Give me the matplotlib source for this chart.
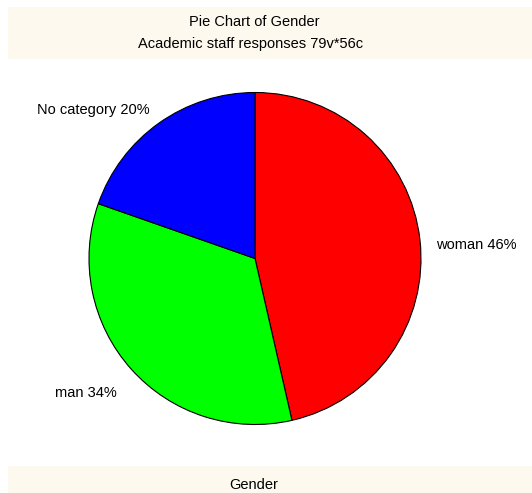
import matplotlib.pyplot as plt
from matplotlib.patches import Rectangle

plt.rcParams['font.family'] = ['Liberation Sans', 'DejaVu Sans']

# datos (56 casos)
categorias = ['woman', 'man', 'No category']
conteos = [26, 19, 11]
colores = ['#ff0000', '#00ff00', '#0000ff']
titulo1 = 'Pie Chart of Gender'
titulo2 = 'Academic staff responses 79v*56c'
eje = 'Gender'

W, H = 532, 493
fig = plt.figure(figsize=(W / 100, H / 100), dpi=100)

# bandas de titulo y pie
fig.patches.append(Rectangle((8 / W, 1 - 59 / H), 1, 52 / H, transform=fig.transFigure,
                             facecolor='#fef9ee', edgecolor='none', zorder=0))
fig.patches.append(Rectangle((8 / W, 0), 1, 27 / H, transform=fig.transFigure,
                             facecolor='#fef9ee', edgecolor='none', zorder=0))
fig.text(254 / W, 1 - 22 / H, titulo1, ha='center', va='center', fontsize=10.5)
fig.text(251 / W, 1 - 44 / H, titulo2, ha='center', va='center', fontsize=10.5)
fig.text(254 / W, 1 - 485 / H, eje, ha='center', va='center', fontsize=10.5)

# pie
cx, cy, r = 255, 258.5, 166
ax = fig.add_axes([(cx - r) / W, (H - cy - r) / H, 2 * r / W, 2 * r / H])
total = sum(conteos)
etiquetas = [f'{c} {round(100 * n / total)}%' for c, n in zip(categorias, conteos)]
wedges, textos = ax.pie(conteos, labels=etiquetas, colors=colores, startangle=90,
                        counterclock=False, labeldistance=1.1,
                        wedgeprops=dict(edgecolor='black', linewidth=0.8),
                        textprops=dict(fontsize=10.5))
# pequeños ajustes de etiquetas
x, y = textos[0].get_position()
textos[0].set_position((x, y - 0.04))
x, y = textos[1].get_position()
textos[1].set_position((x - 0.01, y - 0.08))
ax.set_xlim(-1, 1)
ax.set_ylim(-1, 1)
ax.set_aspect('auto')
ax.axis('off')

fig.savefig('out.png', dpi=100)
